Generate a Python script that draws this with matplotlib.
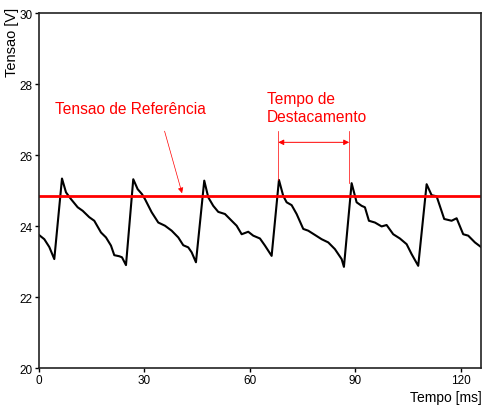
import matplotlib
matplotlib.use('Agg')
import matplotlib.pyplot as plt

plt.rcParams['font.family'] = ['Liberation Sans', 'DejaVu Sans']

# sinal de tensao
tempo = [0, 1.51, 2.93, 4.35, 6.54, 7.68, 9.10, 11.0, 12.43, 14.30, 15.72, 17.63, 19.05,
         20.47, 21.41, 22.83, 23.60, 24.74, 26.81, 28.06, 29.29, 30.14, 32.04, 33.92,
         35.83, 37.73, 39.61, 41.03, 42.45, 43.42, 44.64, 47.0, 48.14, 49.56, 50.98,
         52.89, 54.79, 56.21, 57.64, 59.51, 60.93, 62.84, 64.26, 66.16, 68.24, 69.46,
         70.43, 71.85, 73.27, 75.15, 76.57, 78.48, 80.38, 82.26, 84.16, 86.07, 86.72,
         88.91, 90.33, 91.76, 92.69, 93.83, 95.54, 97.44, 98.86, 100.74, 102.64,
         104.55, 105.97, 107.85, 110.24, 111.66, 113.08, 115.24, 117.34, 118.77,
         120.64, 122.07, 123.97, 125.7]
tensao = [23.75, 23.63, 23.41, 23.07, 25.34, 24.95, 24.76, 24.53, 24.43, 24.25, 24.15,
          23.82, 23.68, 23.45, 23.18, 23.15, 23.12, 22.90, 25.32, 25.04, 24.90, 24.76,
          24.39, 24.10, 24.01, 23.87, 23.68, 23.46, 23.40, 23.26, 22.98, 25.28, 24.81,
          24.57, 24.40, 24.34, 24.15, 24.01, 23.77, 23.84, 23.73, 23.65, 23.45, 23.16,
          25.30, 24.85, 24.67, 24.59, 24.34, 23.92, 23.87, 23.75, 23.63, 23.54, 23.35,
          23.07, 22.85, 25.21, 24.67, 24.57, 24.53, 24.15, 24.10, 23.99, 24.03, 23.77,
          23.65, 23.49, 23.21, 22.88, 25.18, 24.87, 24.84, 24.20, 24.15, 24.22, 23.77,
          23.73, 23.54, 23.41]

tensao_ref = 24.85
t_inicio = 68.04
t_fim = 88.23
pico_inicio = 25.30
pico_fim = 25.21

fig = plt.figure(figsize=(4.82, 4.06), dpi=100)
ax = fig.add_axes([0.0809, 0.0911, 0.917, 0.874])

ax.plot(tempo, tensao, color='black', linewidth=1.5)
ax.axhline(tensao_ref, color='red', linewidth=2)

# referencia
ax.text(4.5, 27.3, 'Tensao de Referência', color='red', fontsize=11.2, va='center', ha='left')
ax.annotate('', xy=(40.9, tensao_ref), xytext=(35.5, 26.75),
            arrowprops=dict(arrowstyle='-|>', color='red', lw=0.5, mutation_scale=8))

# tempo de destacamento
ax.text(64.8, 26.88, 'Tempo de\nDestacamento', color='red', fontsize=11.2,
        va='bottom', ha='left', linespacing=1.2)
ax.plot([t_inicio, t_inicio], [26.68, pico_inicio], color='red', linewidth=0.5)
ax.plot([t_fim, t_fim], [26.68, pico_fim], color='red', linewidth=0.5)
ax.annotate('', xy=(t_inicio, 26.36), xytext=(t_fim, 26.36),
            arrowprops=dict(arrowstyle='<|-|>', color='red', lw=0.7, mutation_scale=8,
                            shrinkA=0, shrinkB=0))

ax.set_xlim(0, 125.7)
ax.set_ylim(20, 30)
ax.set_xticks([0, 30, 60, 90, 120])
ax.set_yticks([20, 22, 24, 26, 28, 30])
ax.tick_params(direction='out', length=3, width=1, labelsize=8.5, pad=1.5)
for s in ax.spines.values():
    s.set_linewidth(1.2)
    s.set_color('#222222')

fig.text(0.999, 1 - 398 / 406, 'Tempo [ms]', ha='right', va='center', fontsize=10)
fig.text(12 / 482, 1 - 8 / 406, 'Tensao [V]', rotation=90, ha='center', va='top', fontsize=10.5)

fig.savefig('out.png', dpi=100)
